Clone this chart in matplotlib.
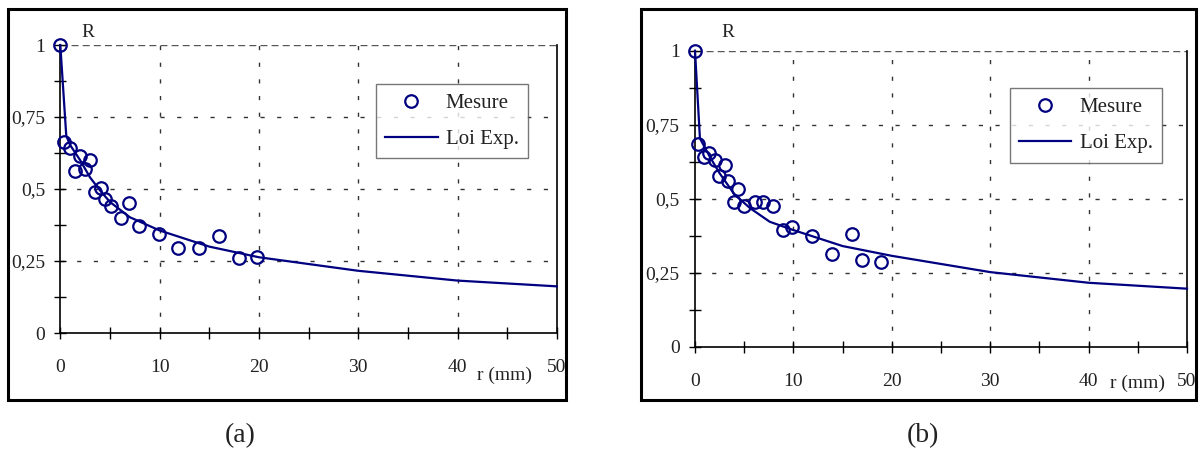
import matplotlib
matplotlib.use("Agg")
import matplotlib.pyplot as plt
from matplotlib.patches import Rectangle
from matplotlib.ticker import MultipleLocator, FuncFormatter

# ---------------- data ----------------
a_meas_r = [0, 0.4, 1.0, 1.5, 2.0, 2.5, 3.0, 3.5, 4.1, 4.5, 5.1, 6.1, 6.9, 7.9, 9.9, 11.9, 14.0, 16.0, 18.0, 19.8]
a_meas_R = [1.0, 0.664, 0.643, 0.563, 0.615, 0.568, 0.600, 0.490, 0.505, 0.464, 0.441, 0.400, 0.450, 0.373, 0.344, 0.296, 0.296, 0.338, 0.261, 0.263]
a_law_r = [0, 0.6, 1, 2, 3, 4, 5, 7, 10, 15, 20, 30, 40, 50]
a_law_R = [1.0, 0.685, 0.652, 0.600, 0.540, 0.495, 0.455, 0.402, 0.356, 0.300, 0.263, 0.216, 0.182, 0.162]

b_meas_r = [0, 0.3, 0.9, 1.4, 2.0, 3.0, 2.4, 3.4, 4.4, 4.0, 5.0, 6.1, 6.9, 7.9, 8.9, 9.9, 11.9, 13.9, 16.0, 17.0, 18.9]
b_meas_R = [1.0, 0.685, 0.640, 0.653, 0.631, 0.613, 0.576, 0.559, 0.532, 0.490, 0.475, 0.490, 0.490, 0.475, 0.395, 0.403, 0.375, 0.314, 0.381, 0.293, 0.287]
b_law_r = [0, 0.5, 1.5, 2.5, 4, 5.6, 7.6, 10, 15, 20, 30, 40, 50]
b_law_R = [1.0, 0.704, 0.642, 0.586, 0.515, 0.468, 0.422, 0.394, 0.340, 0.307, 0.252, 0.216, 0.196]

x_ticks = [0, 10, 20, 30, 40, 50]
y_ticks = [0, 0.25, 0.5, 0.75, 1]
legend_labels = ["Mesure", "Loi Exp."]
captions = ["(a)", "(b)"]

NAVY = "#000080"
plt.rcParams['font.family'] = ['Liberation Serif', 'DejaVu Serif']

W, H = 1201, 455
fig = plt.figure(figsize=(W / 100, H / 100), dpi=100)

def px_axes(x0, x1, y_top, y_bot):
    return [x0 / W, 1 - y_bot / H, (x1 - x0) / W, (y_bot - y_top) / H]

def ylab(v, pos):
    if v == 0:
        return "0"
    if v == 1:
        return "1"
    return ("%g" % v).replace(".", ",")

def make_panel(rect, mr, mR, lr, lR, r_lab_pos, R_lab_pos, leg_anchor, box, caption, cap_pos):
    ax = fig.add_axes(rect)
    ax.set_xlim(0, 50)
    ax.set_ylim(0, 1)
    # grid
    for gx in [10, 20, 30, 40]:
        ax.plot([gx, gx], [0, 1], color="#333333", lw=1.0, ls=(0, (3, 9)), zorder=1)
    for gy in [0.25, 0.5, 0.75]:
        ax.plot([0, 50], [gy, gy], color="#333333", lw=1.0, ls=(0, (3, 9)), zorder=1)
    ax.plot([0, 50], [1, 1], color="#555555", lw=1.0, ls=(0, (5, 3)), zorder=1)
    # spines
    ax.spines['top'].set_visible(False)
    for s in ['left', 'bottom', 'right']:
        ax.spines[s].set_color("black")
        ax.spines[s].set_linewidth(1.2)
    ax.xaxis.set_major_locator(MultipleLocator(10))
    ax.xaxis.set_minor_locator(MultipleLocator(5))
    ax.yaxis.set_major_locator(MultipleLocator(0.25))
    ax.yaxis.set_minor_locator(MultipleLocator(0.125))
    ax.set_xticks(x_ticks)
    ax.set_yticks(y_ticks)
    ax.yaxis.set_major_formatter(FuncFormatter(ylab))
    ax.tick_params(which='both', direction='inout', length=8, width=1.0, color='black')
    ax.tick_params(axis='x', which='major', pad=15, labelsize=14, labelcolor="#222222")
    ax.tick_params(axis='y', which='major', pad=7, labelsize=14, labelcolor="#222222")
    ax.tick_params(top=False, right=False, which='both')
    # data
    ax.plot(lr, lR, color=NAVY, lw=1.6, zorder=3, label=legend_labels[1], clip_on=False)
    ax.plot(mr, mR, ls='none', marker='o', ms=9, mfc='none', mec=NAVY, mew=1.6,
            zorder=4, label=legend_labels[0], clip_on=False)
    h, l = ax.get_legend_handles_labels()
    leg = ax.legend([h[1], h[0]], [l[1], l[0]], loc='upper left', bbox_to_anchor=leg_anchor,
                    borderaxespad=0, fontsize=15, frameon=True, fancybox=False,
                    edgecolor="#555555", handlelength=2.5, handletextpad=0.4,
                    borderpad=0.45, labelspacing=0.8, numpoints=1)
    leg.get_frame().set_linewidth(1.0)
    for t in leg.get_texts():
        t.set_color("#222222")
    ax.text(r_lab_pos[0], r_lab_pos[1], "r (mm)", transform=ax.get_xaxis_transform(),
            ha='center', va='center', fontsize=14, color="#222222")
    ax.text(R_lab_pos[0], R_lab_pos[1], "R", transform=ax.transAxes,
            ha='center', va='center', fontsize=14, color="#222222")
    x0, x1, y0, y1 = box
    fig.add_artist(Rectangle((x0 / W, 1 - y1 / H), (x1 - x0) / W, (y1 - y0) / H,
                             transform=fig.transFigure, fill=False, ec='black', lw=2.2))
    fig.text(cap_pos[0] / W, 1 - cap_pos[1] / H, caption, ha='center', va='center',
             fontsize=20, color="#222222")
    return ax

make_panel(px_axes(60.3, 556.8, 45, 333), a_meas_r, a_meas_R, a_law_r, a_law_R,
           (44.7, -0.146), (0.056, 1.045), (0.636, 0.865), (8, 566, 9, 400),
           captions[0], (240, 436))
make_panel(px_axes(695, 1187, 50.7, 346.7), b_meas_r, b_meas_R, b_law_r, b_law_R,
           (45.0, -0.124), (0.067, 1.063), (0.640, 0.874), (641, 1196, 9, 400),
           captions[1], (923, 436))

fig.savefig("out.png", dpi=100)
